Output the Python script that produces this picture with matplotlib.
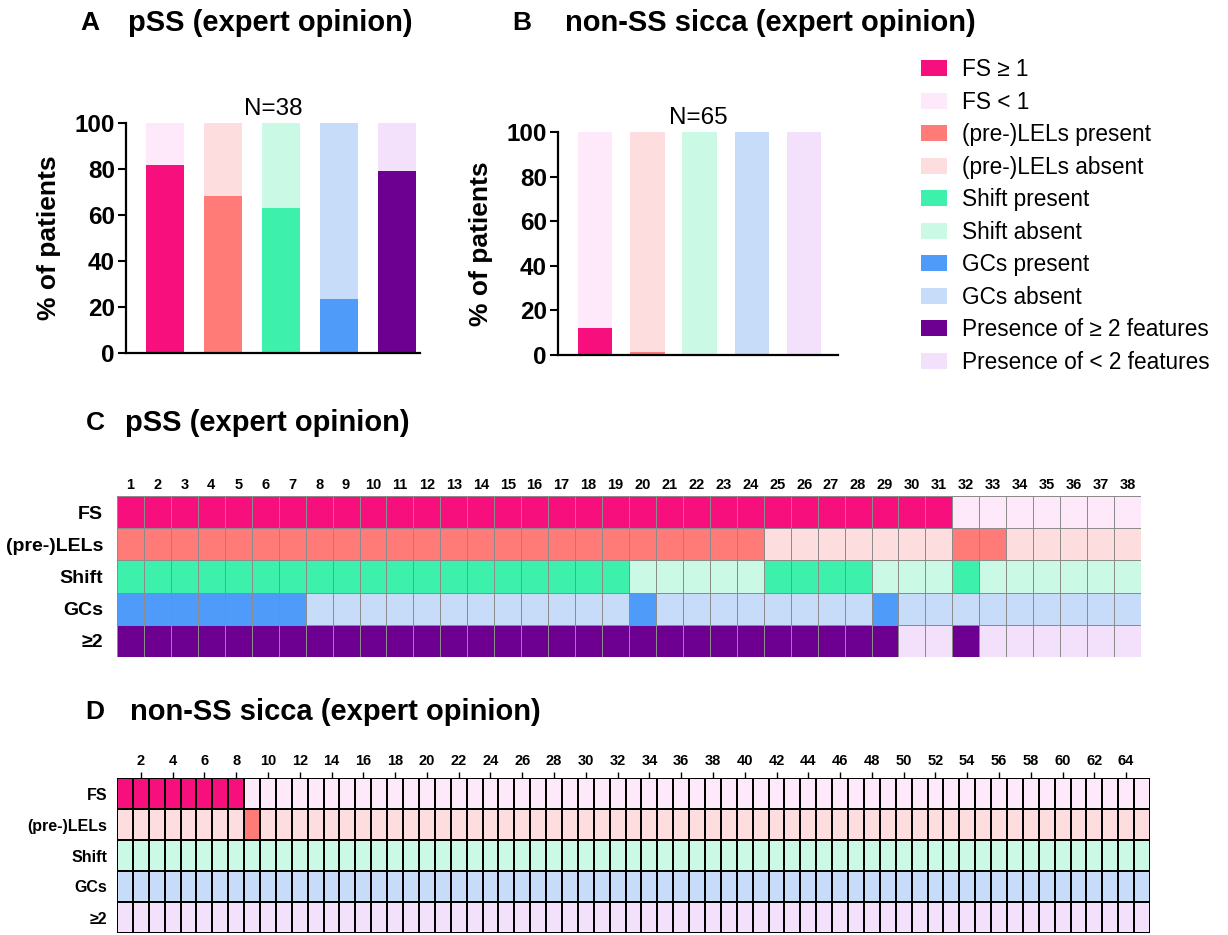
import numpy as np
import matplotlib
matplotlib.use("Agg")
import matplotlib.pyplot as plt
from matplotlib.patches import Patch

plt.rcParams['font.family'] = ['Liberation Sans', 'DejaVu Sans']

# feature rows (1 = present, 0 = absent), one character per patient
features = ["FS", "(pre-)LELs", "Shift", "GCs", "\u22652"]

pss_rows = [
    "1111111111 1111111111 1111111111 10000000",
    "1111111111 1111111111 1111000000 01100000",
    "1111111111 1111111110 0000111100 01000000",
    "1111111000 0000000001 0000000010 00000000",
    "1111111111 1111111111 1111111110 01000000",
]
sicca_rows = [
    "1111111100 0000000000 0000000000 0000000000 0000000000 0000000000 00000",
    "0000000010 0000000000 0000000000 0000000000 0000000000 0000000000 00000",
    "0000000000 0000000000 0000000000 0000000000 0000000000 0000000000 00000",
    "0000000000 0000000000 0000000000 0000000000 0000000000 0000000000 00000",
    "0000000000 0000000000 0000000000 0000000000 0000000000 0000000000 00000",
]

present_colors = ["#F70F7E", "#FF7B78", "#3DF0AC", "#4E9BFA", "#6E0091"]
absent_colors = ["#FDE9F9", "#FDDDDD", "#CAF9E6", "#C6DCF8", "#F3E1FB"]
legend_labels = ["FS \u2265 1", "FS < 1",
                 "(pre-)LELs present", "(pre-)LELs absent",
                 "Shift present", "Shift absent",
                 "GCs present", "GCs absent",
                 "Presence of \u2265 2 features", "Presence of < 2 features"]


def to_matrix(rows):
    return np.array([[int(c) for c in r.replace(" ", "")] for r in rows])


pss = to_matrix(pss_rows)
sicca = to_matrix(sicca_rows)
pss_pct = pss.mean(axis=1) * 100
sicca_pct = sicca.mean(axis=1) * 100

W, H = 1228, 935
fig = plt.figure(figsize=(W / 100, H / 100), dpi=100)


def fx(px):
    return px / W


def fy(py):
    return 1 - py / H


def bar_panel(rect, pct, n, xlim):
    ax = fig.add_axes(rect)
    x = np.arange(len(pct))
    ax.bar(x, 100 - pct, bottom=pct, width=0.66, color=absent_colors, zorder=2)
    ax.bar(x, pct, width=0.66, color=present_colors, zorder=2)
    ax.set_xlim(*xlim)
    ax.set_ylim(0, 100)
    ax.set_yticks([0, 20, 40, 60, 80, 100])
    ax.set_xticks([])
    for s in ["top", "right"]:
        ax.spines[s].set_visible(False)
    for s in ["left", "bottom"]:
        ax.spines[s].set_linewidth(1.6)
    ax.tick_params(axis="y", direction="out", length=6, width=1.5, labelsize=17.5, pad=2)
    for t in ax.get_yticklabels():
        t.set_fontweight("bold")
    ax.set_ylabel("% of patients", fontsize=19, fontweight="bold", labelpad=10)
    ax.set_title("N=%d" % n, fontsize=17.5, pad=6)
    return ax


bar_panel([fx(126), fy(353), fx(420 - 126), (353 - 123) / H], pss_pct, 38, (-0.67, 4.4))
bar_panel([fx(558), fy(355), fx(838 - 558), (355 - 132) / H], sicca_pct, 65, (-0.71, 4.65))

# legend
handles = []
for p, a in zip(present_colors, absent_colors):
    handles += [Patch(facecolor=p, edgecolor="none"), Patch(facecolor=a, edgecolor="none")]
fig.legend(handles, legend_labels, loc="upper left", bbox_to_anchor=(fx(921), fy(58)),
           frameon=False, fontsize=16.3, handlelength=1.15, handleheight=0.72,
           handletextpad=0.65, labelspacing=0.42, borderpad=0, borderaxespad=0)


def heat_panel(rect, mat, edge, lw, label_size, tick_step, tick_len, row_pad):
    ax = fig.add_axes(rect)
    nrow, ncol = mat.shape
    rgb = np.zeros((nrow, ncol, 3))
    for i in range(nrow):
        on = np.array(matplotlib.colors.to_rgb(present_colors[i]))
        off = np.array(matplotlib.colors.to_rgb(absent_colors[i]))
        rgb[i] = np.where(mat[i][:, None] == 1, on, off)
    ax.pcolormesh(np.arange(ncol + 1) + 0.5, np.arange(nrow + 1) - 0.5, rgb,
                  edgecolors=edge, linewidth=lw)
    ax.set_xlim(0.5, ncol + 0.5)
    ax.set_ylim(nrow - 0.5, -0.5)
    ax.xaxis.tick_top()
    cols = np.arange(tick_step, ncol + 1, tick_step)
    ax.set_xticks(cols)
    ax.set_xticklabels([str(c) for c in cols], fontsize=10.5, fontweight="bold")
    ax.tick_params(axis="x", length=tick_len, width=1, pad=3)
    ax.set_yticks(np.arange(nrow))
    ax.set_yticklabels(features, fontsize=label_size, fontweight="bold")
    ax.tick_params(axis="y", length=0, pad=row_pad)
    for s in ax.spines.values():
        s.set_visible(False)
    return ax


heat_panel([fx(117), fy(657), fx(1141 - 117), (657 - 496) / H], pss,
           "#8c8c8c", 0.7, 14, 1, 0, 10)
heat_panel([fx(117), fy(933), fx(1150 - 117), (933 - 778) / H], sicca,
           "black", 1.2, 11.5, 2, 4, 7)

# panel titles
titles = [(80, 23, "A", 128, "pSS (expert opinion)"),
          (512, 23, "B", 565, "non-SS sicca (expert opinion)"),
          (86, 423, "C", 125, "pSS (expert opinion)"),
          (85, 712, "D", 130, "non-SS sicca (expert opinion)")]
for lx, ly, letter, tx, text in titles:
    fig.text(fx(lx), fy(ly), letter, fontsize=19, fontweight="bold", va="center", ha="left")
    fig.text(fx(tx), fy(ly), text, fontsize=21, fontweight="bold", va="center", ha="left")

fig.savefig("out.png", dpi=100)
